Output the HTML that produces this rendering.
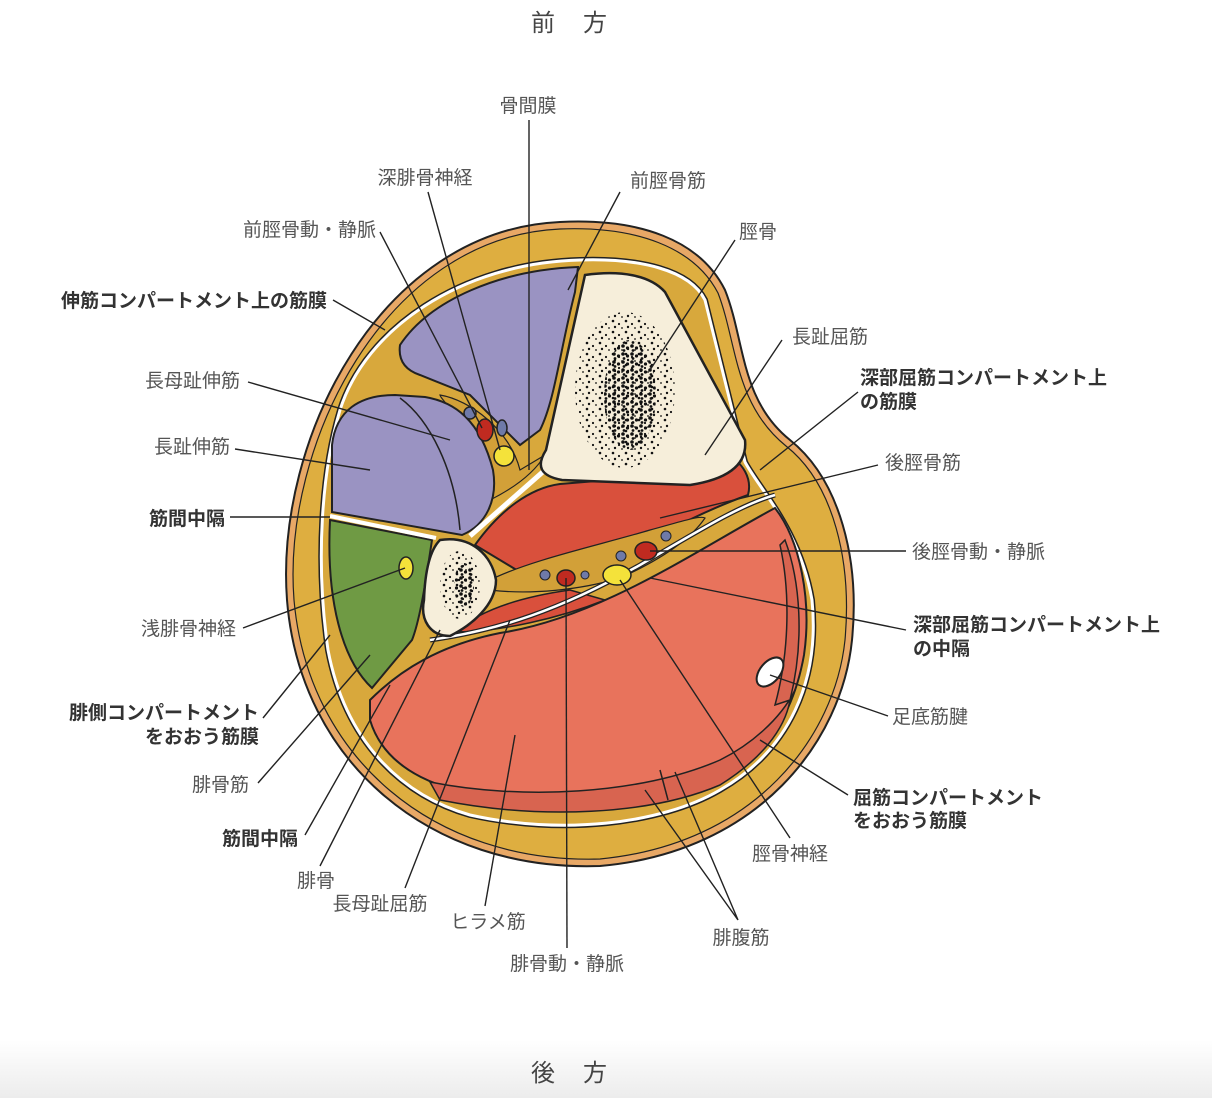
<!DOCTYPE html>
<html><head><meta charset="utf-8"><style>
html,body{margin:0;padding:0;background:#fff}
body{width:1212px;height:1098px;overflow:hidden;background:linear-gradient(#fff 0,#fff 1040px,#ececec 1098px)}
svg text{font-family:"Liberation Sans","Noto Sans CJK JP",sans-serif;font-size:19px;fill:#555}
svg text.b{font-weight:bold;fill:#333}
</style></head><body>
<svg width="1212" height="1098" viewBox="0 0 1212 1098">
<defs>
<pattern id="sp1" width="13" height="11" patternUnits="userSpaceOnUse">
<circle cx="2" cy="2" r="1.3" fill="#111"/><circle cx="8" cy="5" r="1.1" fill="#111"/><circle cx="4" cy="8" r="1.2" fill="#111"/><circle cx="11" cy="9" r="0.9" fill="#111"/>
</pattern>
<pattern id="sp2" width="9" height="8" patternUnits="userSpaceOnUse">
<circle cx="2" cy="2" r="1.8" fill="#111"/><circle cx="6.5" cy="4" r="1.6" fill="#111"/><circle cx="3" cy="6.5" r="1.4" fill="#111"/>
</pattern>
</defs>
<text x="543" y="31" text-anchor="middle" style="font-size:24px;fill:#444">前</text>
<text x="595" y="31" text-anchor="middle" style="font-size:24px;fill:#444">方</text>
<text x="543" y="1081" text-anchor="middle" style="font-size:24px;fill:#444">後</text>
<text x="595" y="1081" text-anchor="middle" style="font-size:24px;fill:#444">方</text>

<!-- skin -->
<path d="M560,222 C640,218 700,240 725,290 C745,340 740,400 790,440 C840,480 860,560 852,640 C842,740 760,852 600,866 C430,872 300,762 287,600 C275,440 380,230 560,222 Z" fill="#e8a866" stroke="#222" stroke-width="2"/>
<path d="M560,229 C636,226 694,247 718,293 C737,342 734,404 786,446 C834,484 852,562 845,640 C835,736 756,844 600,859 C434,864 308,758 294,600 C282,446 384,237 560,229 Z" fill="#deae40" stroke="#222" stroke-width="1.2"/>
<!-- fascia -->
<path d="M580,260 C640,258 690,270 705,300 L745,462 C760,490 800,530 812,600 C820,680 790,750 720,790 C660,825 560,835 470,815 C400,795 345,740 328,650 C315,560 322,470 340,410 C365,330 460,263 580,260 Z" fill="#d8a83c" stroke="#222" stroke-width="6"/>
<path d="M580,260 C640,258 690,270 705,300 L745,462 C760,490 800,530 812,600 C820,680 790,750 720,790 C660,825 560,835 470,815 C400,795 345,740 328,650 C315,560 322,470 340,410 C365,330 460,263 580,260 Z" fill="#d8a83c" stroke="#fff" stroke-width="3"/>

<!-- superficial posterior -->
<path d="M370,700 C400,670 440,645 500,633 C600,618 700,548 775,508 C800,540 812,600 804,655 C795,705 775,740 745,762 C680,795 600,805 520,800 C440,795 385,770 370,720 Z" fill="#e8735c" stroke="#222" stroke-width="2"/>
<path d="M430,782 C520,800 640,795 720,760 C750,745 780,720 795,690 L790,700 C785,730 760,760 720,785 C650,815 540,820 440,800 Z" fill="#d86450" stroke="#222" stroke-width="1.5"/>
<path d="M785,540 C800,580 805,640 790,700 L775,705 C790,650 790,590 780,545 Z" fill="#d86450" stroke="#222" stroke-width="1.5"/>
<ellipse cx="770" cy="672" rx="10" ry="17" transform="rotate(40 770 672)" fill="#fff" stroke="#222" stroke-width="2"/>
<path d="M660,770 L668,800" stroke="#222" stroke-width="1.5"/>

<!-- deep posterior -->
<path d="M475,545 C500,510 530,488 560,484 L705,472 L722,452 C745,462 752,480 748,495 C700,512 650,540 620,555 L530,578 Z" fill="#d9503c" stroke="#222" stroke-width="2"/>
<path d="M455,632 C480,610 520,597 570,590 L605,600 C560,618 500,632 455,632 Z" fill="#d9503c" stroke="#222" stroke-width="1.5"/>
<path d="M490,580 C530,560 600,545 650,530 C680,522 700,515 705,518 C690,540 660,560 620,578 C580,590 530,595 490,590 Z" fill="#d2a038" stroke="#222" stroke-width="1.2"/>
<path d="M430,640 C500,630 560,610 640,565 C700,530 740,505 775,495" fill="none" stroke="#222" stroke-width="5"/>
<path d="M430,640 C500,630 560,610 640,565 C700,530 740,505 775,495" fill="none" stroke="#fff" stroke-width="2.5"/>

<!-- anterior -->
<path d="M400,345 C430,300 500,270 578,267 L575,292 C560,350 555,400 540,430 L520,445 L470,395 L420,375 C405,370 398,360 400,345 Z" fill="#9a93c2" stroke="#222" stroke-width="2"/>
<path d="M440,395 C470,400 510,430 520,470 L545,455 C530,480 500,495 490,500 C470,420 440,400 440,395 Z" fill="#d2a038" stroke="#222" stroke-width="1.2"/>
<path d="M332,445 C336,410 360,395 395,395 L425,397 C455,402 480,420 493,470 C498,500 486,525 462,535 L332,512 Z" fill="#9a93c2" stroke="#222" stroke-width="2"/>
<path d="M400,398 C430,420 455,470 460,530" fill="none" stroke="#222" stroke-width="1.5"/>
<path d="M470,536 L545,470" stroke="#fff" stroke-width="5"/>
<circle cx="470" cy="413" r="6" fill="#6f7aa8" stroke="#222" stroke-width="1.5"/>
<ellipse cx="485" cy="430" rx="8" ry="11" fill="#c02a20" stroke="#222" stroke-width="1.5"/>
<ellipse cx="502" cy="428" rx="5" ry="8" fill="#6f7aa8" stroke="#222" stroke-width="1.5"/>
<circle cx="504" cy="456" r="10" fill="#f4e23a" stroke="#222" stroke-width="1.5"/>

<!-- tibia -->
<path d="M585,275 C620,270 650,275 665,292 L745,440 C748,468 722,480 690,485 L562,480 C540,476 536,466 546,450 Z" fill="#f6eeda" stroke="#222" stroke-width="2.5"/>
<ellipse cx="625" cy="390" rx="50" ry="78" fill="url(#sp1)"/>
<ellipse cx="630" cy="395" rx="26" ry="55" fill="url(#sp2)"/>

<!-- peroneal -->
<path d="M330,520 L432,540 C426,580 420,620 412,640 L372,688 C342,660 326,600 330,520 Z" fill="#6f9a44" stroke="#222" stroke-width="2"/>
<ellipse cx="406" cy="568" rx="7" ry="11" fill="#f4e23a" stroke="#222" stroke-width="1.5"/>
<path d="M330,516 L436,538" stroke="#fff" stroke-width="4"/>
<!-- fibula -->
<path d="M440,540 C472,535 492,556 496,580 C496,606 470,626 450,636 C430,636 420,620 424,600 C425,570 430,550 440,540 Z" fill="#f6eeda" stroke="#222" stroke-width="2.5"/>
<ellipse cx="460" cy="585" rx="20" ry="34" fill="url(#sp1)"/>
<ellipse cx="464" cy="585" rx="10" ry="22" fill="url(#sp2)"/>

<!-- deep vessels -->
<ellipse cx="646" cy="551" rx="11" ry="9" fill="#c02a20" stroke="#222" stroke-width="1.5"/>
<circle cx="666" cy="536" r="5" fill="#6f7aa8" stroke="#222"/>
<circle cx="621" cy="556" r="5" fill="#6f7aa8" stroke="#222"/>
<ellipse cx="617" cy="575" rx="14" ry="10" fill="#f4e23a" stroke="#222" stroke-width="1.5"/>
<ellipse cx="566" cy="578" rx="9" ry="8" fill="#c02a20" stroke="#222" stroke-width="1.5"/>
<circle cx="545" cy="575" r="5" fill="#6f7aa8" stroke="#222"/>
<circle cx="585" cy="575" r="4" fill="#6f7aa8" stroke="#222"/>

<!-- leaders -->
<g stroke="#222" stroke-width="1.4" fill="none">
<path d="M529,120 L529,470"/>
<path d="M428,192 L500,450"/>
<path d="M620,192 L568,290"/>
<path d="M380,232 L482,428"/>
<path d="M735,240 L650,370"/>
<path d="M333,300 L385,330"/>
<path d="M782,340 L705,455"/>
<path d="M858,392 L760,470"/>
<path d="M248,382 L450,440"/>
<path d="M878,465 L660,518"/>
<path d="M235,449 L370,470"/>
<path d="M230,517 L330,517"/>
<path d="M906,551 L650,551"/>
<path d="M243,628 L405,568"/>
<path d="M906,630 L650,578"/>
<path d="M888,716 L770,675"/>
<path d="M263,718 L330,635"/>
<path d="M848,795 L760,740"/>
<path d="M258,783 L370,655"/>
<path d="M305,835 L390,685"/>
<path d="M790,838 L620,580"/>
<path d="M320,866 L440,630"/>
<path d="M405,888 L510,620"/>
<path d="M485,906 L515,735"/>
<path d="M567,948 L566,578"/>
<path d="M738,920 L645,790 M738,920 L675,772"/>
</g>

<!-- labels -->
<text x="528" y="112" text-anchor="middle">骨間膜</text>
<text x="425" y="184" text-anchor="middle">深腓骨神経</text>
<text x="668" y="187" text-anchor="middle">前脛骨筋</text>
<text x="376" y="236" text-anchor="end">前脛骨動・静脈</text>
<text x="758" y="238" text-anchor="middle">脛骨</text>
<text x="327" y="307" text-anchor="end" class="b">伸筋コンパートメント上の筋膜</text>
<text x="830" y="343" text-anchor="middle">長趾屈筋</text>
<text x="860" y="384" class="b">深部屈筋コンパートメント上</text>
<text x="860" y="408" class="b">の筋膜</text>
<text x="240" y="387" text-anchor="end">長母趾伸筋</text>
<text x="923" y="469" text-anchor="middle">後脛骨筋</text>
<text x="230" y="453" text-anchor="end">長趾伸筋</text>
<text x="225" y="525" text-anchor="end" class="b">筋間中隔</text>
<text x="912" y="558">後脛骨動・静脈</text>
<text x="236" y="635" text-anchor="end">浅腓骨神経</text>
<text x="913" y="631" class="b">深部屈筋コンパートメント上</text>
<text x="913" y="655" class="b">の中隔</text>
<text x="892" y="723">足底筋腱</text>
<text x="259" y="719" text-anchor="end" class="b">腓側コンパートメント</text>
<text x="259" y="743" text-anchor="end" class="b">をおおう筋膜</text>
<text x="853" y="804" class="b">屈筋コンパートメント</text>
<text x="853" y="827" class="b">をおおう筋膜</text>
<text x="249" y="791" text-anchor="end">腓骨筋</text>
<text x="298" y="845" text-anchor="end" class="b">筋間中隔</text>
<text x="790" y="860" text-anchor="middle">脛骨神経</text>
<text x="316" y="887" text-anchor="middle">腓骨</text>
<text x="380" y="910" text-anchor="middle">長母趾屈筋</text>
<text x="488" y="928" text-anchor="middle">ヒラメ筋</text>
<text x="567" y="970" text-anchor="middle">腓骨動・静脈</text>
<text x="741" y="944" text-anchor="middle">腓腹筋</text>
</svg>
</body></html>
